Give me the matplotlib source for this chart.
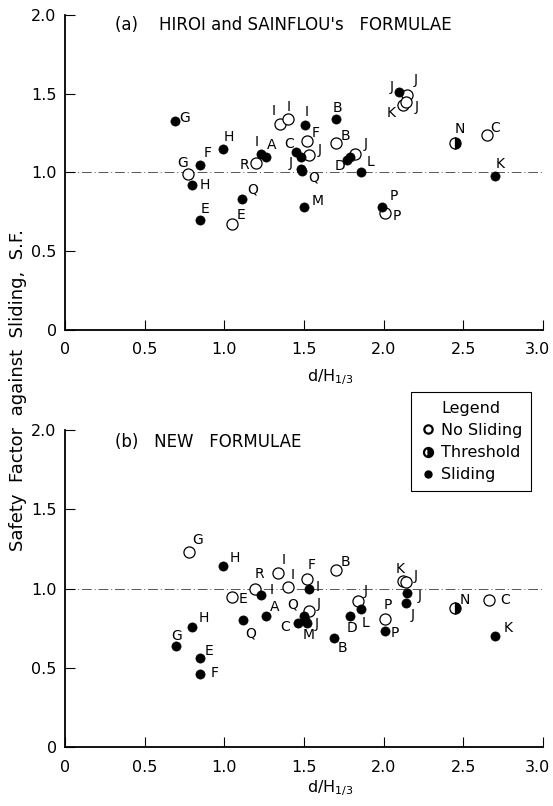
import matplotlib
matplotlib.use("Agg")
import matplotlib.pyplot as plt
from matplotlib.lines import Line2D
from matplotlib.transforms import ScaledTranslation

plt.rcParams['font.family'] = ['DejaVu Sans']
plt.rcParams['mathtext.fontset'] = 'dejavusans'

# ---------------- data ----------------
# status: n = no sliding (open), t = threshold (half), s = sliding (filled)
a_x = [0.69, 0.77, 0.80, 0.85, 0.85, 0.99, 1.11, 1.05, 1.20, 1.23, 1.26, 1.35, 1.40,
       1.51, 1.45, 1.52, 1.48, 1.53, 1.48, 1.49, 1.50, 1.70, 1.70, 1.77, 1.79, 1.82,
       1.86, 1.99, 2.01, 2.10, 2.15, 2.12, 2.14, 2.45, 2.65, 2.70]
a_y = [1.33, 0.99, 0.92, 1.05, 0.70, 1.15, 0.83, 0.67, 1.06, 1.12, 1.10, 1.31, 1.34,
       1.30, 1.13, 1.20, 1.10, 1.11, 1.02, 1.01, 0.78, 1.34, 1.19, 1.08, 1.10, 1.12,
       1.00, 0.78, 0.74, 1.51, 1.49, 1.43, 1.45, 1.19, 1.24, 0.98]
a_lab = ['G', 'G', 'H', 'F', 'E', 'H', 'Q', 'E', 'R', 'I', 'A', 'I', 'I',
         'I', 'C', 'F', '', 'J', 'J', 'Q', 'M', 'B', 'B', 'D', '', 'J',
         'L', 'P', 'P', 'J', 'J', 'K', 'J', 'N', 'C', 'K']
a_st = ['s', 'n', 's', 's', 's', 's', 's', 'n', 'n', 's', 's', 'n', 'n',
        's', 's', 'n', 's', 'n', 's', 's', 's', 's', 'n', 's', 's', 'n',
        's', 's', 'n', 's', 'n', 'n', 'n', 't', 'n', 's']

b_x = [0.78, 0.99, 1.19, 1.23, 1.05, 1.34, 1.40, 1.26, 1.12, 0.80, 0.70, 0.85, 0.85,
       1.52, 1.53, 1.70, 1.50, 1.53, 1.46, 1.52, 1.51, 1.69, 1.79, 1.86, 1.84,
       2.01, 2.01, 2.12, 2.14, 2.15, 2.14, 2.45, 2.66, 2.70]
b_y = [1.23, 1.14, 1.00, 0.96, 0.95, 1.10, 1.01, 0.83, 0.80, 0.76, 0.64, 0.56, 0.46,
       1.06, 1.00, 1.12, 0.83, 0.86, 0.78, 0.78, 0.80, 0.69, 0.83, 0.87, 0.92,
       0.81, 0.73, 1.05, 1.04, 0.97, 0.91, 0.88, 0.93, 0.70]
b_lab = ['G', 'H', 'R', 'I', 'E', 'I', 'I', 'A', 'Q', 'H', 'G', 'E', 'F',
         'F', 'I', 'B', 'Q', 'J', 'C', 'J', 'M', 'B', 'D', 'L', 'J',
         'P', 'P', 'K', 'J', 'J', 'J', 'N', 'C', 'K']
b_st = ['n', 's', 'n', 's', 'n', 'n', 'n', 's', 's', 's', 's', 's', 's',
        'n', 's', 'n', 's', 'n', 's', 's', 's', 's', 's', 's', 'n',
        'n', 's', 'n', 'n', 's', 's', 't', 'n', 's']

# label-centre offsets from the point (pixels, +y = up)
a_off = [(10, 3), (-5, 11), (12, 0), (7, 12), (5, 11), (6, 12), (11, 10), (9, 9), (-12, -2),
         (-4, 12), (6, 12), (-6, 13), (1, 12), (1, 13), (-7, 8), (9, 8), (0, 0), (11, 5),
         (-10, 6), (11, -7), (14, 6), (2, 11), (10, 7), (-7, -6), (0, 0), (11, 10),
         (9, 10), (12, 11), (12, -3), (-8, 5), (8, 15), (-11, -8), (11, -5), (5, 14),
         (8, 7), (5, 12)]
b_off = [(8, 12), (12, 8), (5, 15), (11, 5), (11, -2), (5, 13), (5, 12), (9, 9), (7, -13),
         (11, 9), (0, 10), (9, 7), (14, 1), (5, 14), (9, 2), (10, 8), (-11, 11), (10, 7),
         (-12, -4), (10, -1), (3, -15), (8, -10), (2, -12), (4, -14), (8, 10),
         (3, 14), (10, -2), (-2, 12), (10, 6), (12, -3), (7, -12), (10, 8), (17, 0),
         (13, 8)]

x_ticks = [0, 0.5, 1.0, 1.5, 2.0, 2.5, 3.0]
x_tick_labels = ['0', '0.5', '1.0', '1.5', '2.0', '2.5', '3.0']
y_ticks = [0, 0.5, 1.0, 1.5, 2.0]
y_tick_labels = ['0', '0.5', '1.0', '1.5', '2.0']

# ---------------- figure ----------------
fig = plt.figure(figsize=(5.53, 8.06), dpi=100)
ax1 = fig.add_axes([0.1175, 0.5906, 0.864, 0.3908])
ax2 = fig.add_axes([0.1175, 0.0732, 0.864, 0.3930])


def draw_marker(ax, x, y, st):
    if st == 'n':
        ax.plot(x, y, 'o', ms=8, mfc='white', mec='black', mew=0.9, zorder=3)
    elif st == 's':
        ax.plot(x, y, 'o', ms=6.6, mfc='black', mec='black', mew=0.5, zorder=4)
    else:
        ax.plot(x, y, 'o', ms=8, fillstyle='right', mfc='black', mfcalt='white',
                mec='black', mew=0.9, zorder=4)


def panel(ax, xs, ys, labs, sts, offs, title, title_y, xlab_y):
    ax.axhline(1.0, color='#555555', lw=0.7, ls=(0, (10, 3, 1, 3)), zorder=1)
    order = sorted(range(len(xs)), key=lambda i: 0 if sts[i] == 'n' else 1)
    for i in order:
        draw_marker(ax, xs[i], ys[i], sts[i])
        if labs[i]:
            ax.annotate(labs[i], (xs[i], ys[i]), xytext=offs[i], textcoords='offset pixels',
                        fontsize=10, ha='center', va='center', zorder=5)
    ax.set_xlim(0, 3.0)
    ax.set_ylim(0, 2.0)
    ax.set_xticks(x_ticks)
    ax.set_xticklabels(x_tick_labels)
    ax.set_yticks(y_ticks)
    ax.set_yticklabels(y_tick_labels)
    ax.tick_params(direction='in', length=7, width=0.8, labelsize=11.5)
    ax.tick_params(axis='x', pad=9)
    ax.tick_params(axis='y', pad=6)
    last = ax.get_xticklabels()[-1]
    last.set_transform(last.get_transform() + ScaledTranslation(-0.05, 0, fig.dpi_scale_trans))
    for s in ['top', 'right']:
        ax.spines[s].set_visible(False)
    for s in ['left', 'bottom']:
        ax.spines[s].set_linewidth(1.3)
    ax.set_xlabel(r'd/H$_{\mathregular{1/3}}$', fontsize=11.5)
    ax.xaxis.label.set_va('center')
    ax.xaxis.set_label_coords(0.555, xlab_y)
    ax.text(0.104, title_y, title, transform=ax.transAxes, fontsize=12, va='center',
            ha='left')


panel(ax1, a_x, a_y, a_lab, a_st, a_off, "(a)    HIROI and SAINFLOU's   FORMULAE",
      0.968, -0.149)
panel(ax2, b_x, b_y, b_lab, b_st, b_off, "(b)   NEW   FORMULAE", 0.962, -0.129)

fig.text(0.032, 0.516, 'Safety  Factor  against  Sliding,  S.F.', rotation=90,
         fontsize=13, ha='center', va='center')

handles = [
    Line2D([], [], ls='none', marker='o', ms=6, mfc='white', mec='black', mew=1.6),
    Line2D([], [], ls='none', marker='o', ms=6.5, fillstyle='right', mfc='black',
           mfcalt='white', mec='black', mew=1.6),
    Line2D([], [], ls='none', marker='o', ms=5, mfc='black', mec='black'),
]
leg = fig.legend(handles, ['No Sliding', 'Threshold', 'Sliding'], title='Legend',
                 loc='upper left', bbox_to_anchor=(411 / 553, 1 - 392 / 806),
                 fancybox=False, edgecolor='black', framealpha=1, fontsize=11.5,
                 title_fontsize=11.5, handletextpad=0.3, handlelength=1.0,
                 borderpad=0.55, labelspacing=0.45, borderaxespad=0)
leg.get_frame().set_linewidth(0.8)

fig.savefig('out.png', dpi=100)
